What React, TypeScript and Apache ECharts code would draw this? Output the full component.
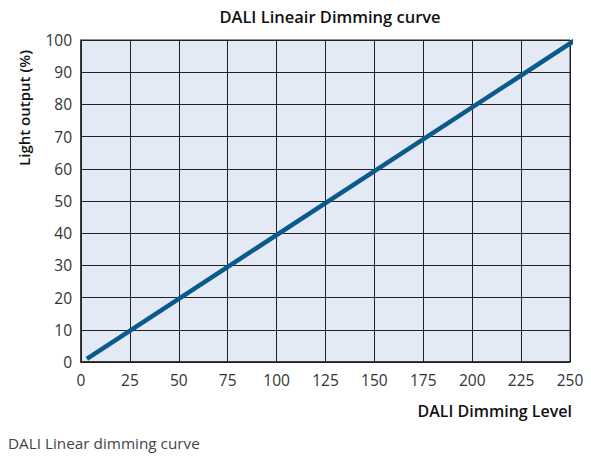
import React, { useRef, useEffect } from 'react';
import * as echarts from 'echarts';

// DALI level vs light output, endpoints of the straight curve
const dimLevels = [3, 254];
const lightOutput = [1, 100.5];

const xTicks = [0, 250, 25];
const yTicks = [0, 100, 10];

const FONT = '"Open Sans", "Noto Sans", sans-serif';

const App: React.FC = () => {
  const chartRef = useRef<HTMLDivElement>(null);

  useEffect(() => {
    const myChart = echarts.init(chartRef.current, null, { renderer: 'svg' });

    const option = {
      animation: false,
      textStyle: { fontFamily: FONT },
      title: {
        text: 'DALI Lineair Dimming curve',
        left: 325,
        textAlign: 'center',
        top: 3,
        textStyle: { fontSize: 16.5, fontWeight: 600, color: '#111', fontFamily: FONT }
      },
      grid: {
        left: 81,
        right: 21,
        top: 40,
        bottom: 104,
        show: true,
        backgroundColor: '#e4e9f6',
        borderColor: '#222',
        borderWidth: 1
      },
      xAxis: {
        type: 'value',
        min: xTicks[0],
        max: xTicks[1],
        interval: xTicks[2],
        axisLine: { show: true, lineStyle: { color: '#222', width: 1.5 } },
        axisTick: { show: false },
        axisLabel: { color: '#333', fontSize: 15.5, margin: 10, fontFamily: FONT },
        splitLine: { show: true, lineStyle: { color: '#222', width: 1 } }
      },
      yAxis: {
        type: 'value',
        min: yTicks[0],
        max: yTicks[1],
        interval: yTicks[2],
        axisLine: { show: true, lineStyle: { color: '#222', width: 1.5 } },
        axisTick: { show: false },
        axisLabel: { color: '#333', fontSize: 15.5, margin: 9, fontFamily: FONT },
        splitLine: { show: true, lineStyle: { color: '#222', width: 1 } }
      },
      series: [
        {
          type: 'line',
          data: dimLevels.map((x, i) => [x, lightOutput[i]]),
          symbol: 'none',
          clip: false,
          lineStyle: { color: '#0b5a8c', width: 4.5 }
        }
      ],
      graphic: [
        {
          type: 'text',
          x: 24,
          y: 108,
          rotation: Math.PI / 2,
          style: {
            text: 'Light output (%)',
            fontSize: 15,
            fontWeight: 600,
            fill: '#111',
            fontFamily: FONT,
            align: 'center',
            verticalAlign: 'middle'
          }
        },
        {
          type: 'text',
          x: 572,
          y: 411,
          style: {
            text: 'DALI Dimming Level',
            fontSize: 16,
            fontWeight: 600,
            fill: '#111',
            fontFamily: FONT,
            align: 'right',
            verticalAlign: 'middle'
          }
        },
        {
          type: 'text',
          x: 8,
          y: 443,
          style: {
            text: 'DALI Linear dimming curve',
            fontSize: 15.3,
            fill: '#444',
            fontFamily: FONT,
            align: 'left',
            verticalAlign: 'middle'
          }
        }
      ]
    };

    myChart.setOption(option);

    return () => {
      myChart.dispose();
    };
  }, []);

  return (
    <div
      ref={chartRef}
      style={{ position: 'absolute', left: 0, top: 0, width: '591px', height: '466px' }}
    />
  );
};

export default App;
